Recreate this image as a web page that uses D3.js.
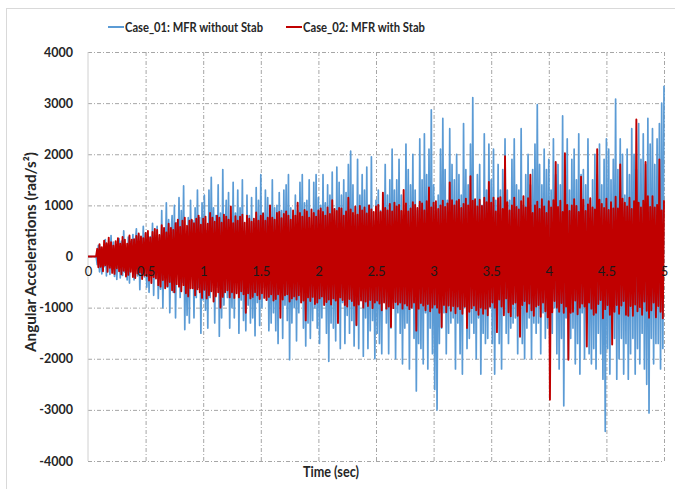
<!DOCTYPE html>
<html>
<head>
<meta charset="utf-8">
<script src="https://cdn.jsdelivr.net/npm/d3@7"></script>
<style>
  body { margin: 0; background: #fff; }
  svg { display: block; font-family: Lato, "Open Sans", sans-serif; }
</style>
</head>
<body>
<svg class="chart" width="675" height="489"></svg>
<script>
const width = 675
const height = 489
const margin = { top: 52, right: 11, bottom: 28, left: 88 }

const seriesNames = ['Case_01: MFR without Stab', 'Case_02: MFR with Stab']
const seriesColors = ['#5b9bd5', '#c00000']
const xTicks = [0, 0.5, 1, 1.5, 2, 2.5, 3, 3.5, 4, 4.5, 5]
const yTicks = [-4000, -3000, -2000, -1000, 0, 1000, 2000, 3000, 4000]
const dt = 0.01 // sample step (sec)

// Case_01, one row per 0.1 s
const case01 = [
  0, 0, 0, 0, 0, 0, 0, 0, -160, 220,
  -300, 180, -340, 120, -200, 330, -380, 240, 60, -350,
  410, -260, 280, -390, 150, -450, 220, 350, -420, 300,
  -370, 500, -310, 160, -460, 380, -520, 290, -150, 430,
  -460, 240, 540, -380, 420, -650, 330, -240, 590, -400,
  450, -600, 280, -700, 390, -160, 650, -760, 420, -300,
  590, -820, 360, -640, 900, -1000, 500, -260, 1050, -600,
  720, -1100, 400, 800, -700, 1000, -1200, 660, -350, 1150,
  -800, 900, -500, 1380, -1430, 450, -1150, 760, -1300, 1100,
  -350, 700, -1200, 950, -800, 1300, -600, 760, -1500, 1050,
  -850, 1200, -1050, 500, -1400, 1300, -800, 1550, -450, 950,
  -1300, 800, -600, 1400, -1560, 850, -1200, 1700, -950, 400,
  1100, -800, 1250, -1400, 600, -1000, 1450, -1200, 850, -500,
  1300, -1500, 950, -850, 1500, -1250, 500, -1450, 1200, -950,
  800, -1300, 1150, -1200, 650, -1550, 1350, -900, 1100, -1350,
  1600, -1000, 850, -600, 1300, -850, 1150, -1450, 500, -1300,
  1500, -1100, 950, -1450, 1000, -1700, 1250, -600, 900, -1600,
  1300, -950, 1400, -1250, 1600, -2020, 950, -1300, 600, -1000,
  1200, -1650, 900, -1100, 1450, -700, 1600, -1400, 1050, -1750,
  1100, -1300, 1500, -1600, 500, -1250, 1450, -1000, 1600, -1400,
  1150, -1700, 1000, -1200, 1600, -800, 1050, -1500, 1400, -2050,
  1200, -1300, 1650, -1400, 700, -1650, 1750, -1100, 1450, -1800,
  1200, -900, 1500, -1700, 1250, -1150, 1800, -1500, 2060, -1250,
  1400, -1750, 800, -1350, 1900, -1800, 1200, -600, 1600, -1950,
  1300, -1200, 1750, -1800, 1000, -1450, 1950, -1250, 700, -2000,
  1100, -1500, 1300, -1700, 900, -1900, 1200, -800, 1800, -1300,
  1200, -1900, 1500, -1400, 2100, -900, 1300, -2000, 1500, -1100,
  1900, -1500, 1200, -2100, 800, -1400, 2200, -1300, 1700, -2200,
  1400, -1000, 2000, -1600, 1300, -2630, 900, -1700, 2300, -1800,
  1500, -2100, 2400, -1100, 1600, -2200, 2100, -1400, 2870, -1900,
  1400, -2600, 900, -3000, 1200, -1700, 2100, -1400, 2700, -1100,
  1700, -1900, 1100, -1500, 2500, -1300, 1800, -1200, 1500, -2200,
  2000, -1300, 1600, -1900, 1200, -2300, 2600, -1000, 1700, -1800,
  1400, -1600, 2200, -1300, 3110, -1500, 1100, -2000, 1600, -1200,
  1800, -2300, 1000, -1500, 2400, -1700, 1300, -1600, 2200, -1000,
  1500, -1700, 2100, -2300, 1100, -1400, 1800, -1700, 1300, -2200,
  1700, -1100, 2300, -1500, 1300, -1700, 1100, -1400, 1900, -1300,
  2300, -1200, 1400, -1900, 1300, -1500, 2500, -1700, 1000, -2000,
  1600, -1400, 2000, -1200, 1400, -2000, 1700, -1300, 2200, -1500,
  2970, -1300, 1800, -1900, 1400, -1100, 2100, -1600, 1700, -1400,
  1900, -2000, 1300, -1500, 2300, -1000, 1600, -1900, 1800, -2200,
  1400, -1600, 2750, -2920, 1500, -1200, 2300, -2000, 1300, -1600,
  1900, -1400, 2100, -2100, 1500, -1700, 2400, -2300, 1600, -1100,
  1700, -2000, 1400, -1300, 2300, -1900, 1100, -2100, 1500, -1800,
  2000, -2200, 1600, -1500, 2200, -1900, 1400, -2400, 1900, -3420,
  2300, -1800, 2100, -2300, 1500, -1300, 1900, -1600, 3080, -2400,
  1700, -2000, 2300, -1600, 2000, -2300, 1200, -1700, 2100, -2400,
  1600, -1900, 2500, -1600, 2000, -2300, 1700, -1800, 2600, -2100,
  1900, -1500, 2400, -2200, 1800, -2500, 2700, -3060, 2200, -1600,
  2500, -2100, 1800, -1700, 2300, -1700, 2600, -2200, 3000, -1800,
  3340
]

// Case_02, one row per 0.1 s
const case02 = [
  0, 0, 0, 0, 0, 0, 0, 0, 150, -210,
  240, -200, 180, -290, 310, -170, 260, -300, 370, -220,
  280, -320, 210, -340, 300, -230, 360, -290, 250, -350,
  380, -280, 330, -390, 250, -360, 410, -300, 330, -400,
  340, -420, 400, -330, 450, -310, 390, -440, 360, -370,
  460, -380, 500, -470, 370, -520, 480, -400, 540, -430,
  520, -560, 420, -590, 610, -460, 560, -620, 470, -580,
  640, -500, 560, -660, 520, -700, 650, -540, 720, -590,
  580, -680, 700, -560, 760, -720, 600, -780, 700, -620,
  720, -620, 650, -760, 740, -640, 800, -700, 620, -810,
  740, -650, 780, -820, 640, -760, 850, -680, 760, -880,
  680, -780, 800, -700, 760, -1000, 660, -790, 820, -700,
  780, -660, 720, -800, 980, -700, 650, -810, 790, -720,
  700, -800, 780, -680, 820, -740, 660, -1100, 800, -720,
  740, -820, 680, -790, 740, -700, 860, -760, 700, -830,
  800, -720, 840, -810, 700, -850, 760, -790, 1000, -740,
  760, -860, 720, -830, 850, -740, 870, -1200, 750, -840,
  830, -760, 880, -740, 800, -880, 720, -820, 900, -780,
  800, -840, 1050, -760, 850, -900, 780, -860, 910, -1250,
  880, -800, 760, -870, 920, -790, 850, -930, 780, -900,
  900, -820, 940, -780, 870, -950, 800, -890, 960, -840,
  830, -940, 1100, -820, 930, -860, 890, -1300, 950, -800,
  940, -850, 800, -950, 880, -980, 1150, -830, 920, -870,
  850, -960, 980, -1340, 820, -940, 990, -860, 900, -1000,
  960, -880, 840, -970, 1000, -850, 920, -1010, 870, -900,
  980, -860, 1010, -920, 870, -1050, 1250, -900, 950, -1020,
  900, -980, 1030, -1380, 880, -1010, 1050, -890, 980, -940,
  1010, -900, 890, -1020, 1300, -920, 1040, -960, 880, -1030,
  940, -1000, 1060, -900, 1010, -1450, 950, -1020, 1070, -910,
  1040, -960, 900, -1050, 1080, -930, 1350, -1070, 960, -1000,
  1050, -940, 1080, -1000, 930, -1100, 1000, -1380, 1090, -950,
  970, -1090, 1040, -960, 1450, -1060, 1100, -970, 1000, -1110,
  1080, -980, 1110, -1030, 950, -1120, 1030, -980, 1130, -1400,
  1000, -1080, 1570, -1010, 1090, -960, 1120, -1050, 980, -1140,
  1110, -1000, 990, -1120, 1150, -1020, 1060, -1150, 1460, -980,
  1050, -900, 1150, -1000, 880, -1480, 1140, -840, 1160, -980,
  930, -1150, 1960, -820, 1060, -1090, 900, -1170, 1000, -930,
  1150, -900, 970, -1160, 920, -1570, 1080, -950, 1180, -870,
  960, -1080, 1140, -920, 1600, -1050, 850, -1160, 1000, -980,
  1070, -950, 930, -1180, 1120, -900, 980, -1070, 850, -1190,
  1080, -2800, 960, -1090, 1100, -870, 1850, -1000, 970, -1080,
  1090, -910, 870, -1100, 2020, -980, 1010, -2020, 890, -1100,
  1000, -1080, 1120, -860, 990, -1130, 870, -1000, 1560, -920,
  1110, -980, 890, -1760, 1020, -900, 1140, -1020, 960, -1140,
  920, -1100, 2100, -930, 1110, -850, 1030, -1210, 950, -1030,
  1130, -950, 910, -1140, 1060, -1720, 940, -1080, 1170, -950,
  940, -1120, 1800, -960, 1130, -870, 1050, -1140, 980, -1160,
  1150, -970, 930, -1160, 1080, -940, 2680, -1070, 1050, -990,
  960, -1140, 1090, -880, 1850, -1060, 1180, -1200, 970, -1050,
  1180, -900, 960, -1190, 1010, -970, 1900, -1080, 900, -1210,
  1100
]

const svg = d3.select('.chart').attr('viewBox', [0, 0, width, height])

const x = d3.scaleLinear().domain([0, 5]).range([margin.left, width - margin.right])
const y = d3.scaleLinear().domain([-4000, 4000]).range([height - margin.bottom, margin.top])

// chart frame
svg.append('rect')
  .attr('x', 6.5).attr('y', 8.5)
  .attr('width', 720).attr('height', 520)
  .attr('fill', 'none').attr('stroke', '#d9d9d9')

// grid
const dash = '4,2,1,2'
svg.append('g')
  .attr('transform', `translate(0,${y(-4000)})`)
  .call(d3.axisBottom(x).tickValues(xTicks.slice(1)).tickSize(-(y(-4000) - y(4000))).tickFormat(''))
  .call(g => g.select('.domain').remove())
  .call(g => g.selectAll('line').attr('stroke', '#a6a6a6').attr('stroke-dasharray', dash))

svg.append('g')
  .attr('transform', `translate(${x(0)},0)`)
  .call(d3.axisLeft(y).tickValues(yTicks).tickSize(-(x(5) - x(0))).tickFormat(''))
  .call(g => g.select('.domain').remove())
  .call(g => g.selectAll('line').attr('stroke', '#a6a6a6').attr('stroke-dasharray', dash))

svg.append('line')
  .attr('x1', x(0)).attr('x2', x(0))
  .attr('y1', y(4000)).attr('y2', y(-4000))
  .attr('stroke', '#d0d0d0')

// series
const line = d3.line()
  .x((d, i) => x(i * dt))
  .y(d => y(d))

const widths = [1.7, 1.9]
;[case01, case02].forEach((data, k) => {
  svg.append('path')
    .datum(data)
    .attr('fill', 'none')
    .attr('stroke', seriesColors[k])
    .attr('stroke-width', widths[k])
    .attr('stroke-linejoin', 'round')
    .attr('d', line)
})

// y tick labels
svg.append('g')
  .attr('transform', `translate(${x(0)},0)`)
  .call(d3.axisLeft(y).tickValues(yTicks).tickSize(0).tickPadding(15).tickFormat(d => String(d)))
  .call(g => g.select('.domain').remove())
  .call(g => g.selectAll('text')
    .attr('font-family', 'Lato, sans-serif')
    .attr('font-size', 12.5)
    .attr('font-weight', 'bold')
    .attr('fill', '#262626'))

// x tick labels, on the zero line
svg.append('g')
  .attr('transform', `translate(0,${y(0)})`)
  .call(d3.axisBottom(x).tickValues(xTicks).tickSize(0).tickPadding(10).tickFormat(d => String(d)))
  .call(g => g.select('.domain').remove())
  .call(g => g.selectAll('text')
    .attr('font-family', 'Lato, sans-serif')
    .attr('font-size', 13)
    .attr('fill', '#1a1a1a'))

// axis titles
svg.append('text')
  .attr('x', 331).attr('y', 477)
  .attr('text-anchor', 'middle')
  .attr('font-size', 14.5).attr('font-weight', 'bold').attr('fill', '#262626')
  .attr('textLength', 56).attr('lengthAdjust', 'spacingAndGlyphs')
  .text('Time (sec)')

svg.append('text')
  .attr('transform', 'translate(36,252) rotate(-90)')
  .attr('text-anchor', 'middle')
  .attr('font-size', 14.5).attr('font-weight', 'bold').attr('fill', '#262626')
  .attr('textLength', 200).attr('lengthAdjust', 'spacingAndGlyphs')
  .text('Angular Accelerations (rad/s²)')

// legend
const legendX = [108, 286]
const legendW = [138, 122]
const legend = svg.append('g')
seriesNames.forEach((name, k) => {
  legend.append('line')
    .attr('x1', legendX[k]).attr('x2', legendX[k] + 16)
    .attr('y1', 27).attr('y2', 27)
    .attr('stroke', seriesColors[k]).attr('stroke-width', 2)
  legend.append('text')
    .attr('x', legendX[k] + 17).attr('y', 32)
    .attr('font-size', 14).attr('font-weight', 'bold').attr('fill', '#262626')
    .attr('textLength', legendW[k]).attr('lengthAdjust', 'spacingAndGlyphs')
    .text(name)
})
</script>
</body>
</html>
